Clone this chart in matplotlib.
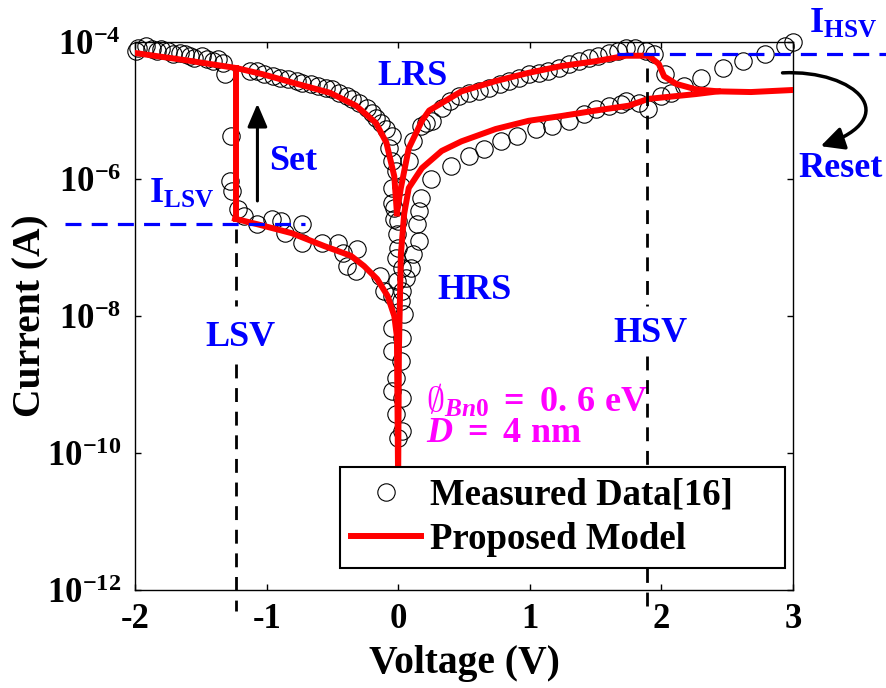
import numpy as np
import matplotlib
matplotlib.use('Agg')
import matplotlib.pyplot as plt
from matplotlib.patches import FancyArrowPatch
from matplotlib.path import Path

plt.rcParams['font.family'] = ['Liberation Serif', 'DejaVu Serif']
plt.rcParams['font.weight'] = 'bold'
plt.rcParams['mathtext.fontset'] = 'custom'
plt.rcParams['mathtext.rm'] = 'Liberation Serif:bold'
plt.rcParams['mathtext.bf'] = 'Liberation Serif:bold'
plt.rcParams['mathtext.it'] = 'Liberation Serif:bold:italic'

# courbes du modele (tension en V, log10 du courant)
lrs_neg_v = [-2.00, -1.60, -1.23, -1.03, -0.77, -0.52, -0.32, -0.17, -0.09, -0.03, -0.01]
lrs_neg_log = [-4.16, -4.27, -4.38, -4.47, -4.61, -4.74, -4.93, -5.18, -5.47, -5.96, -6.50]

set_v = [-1.23, -1.23]
set_log = [-4.38, -6.58]

hrs_neg_v = [-1.24, -1.07, -0.81, -0.56, -0.36, -0.26, -0.16, -0.08, -0.03, -0.01, -0.002]
hrs_neg_log = [-6.58, -6.66, -6.79, -6.98, -7.12, -7.27, -7.46, -7.71, -8.00, -8.30, -10.19]

lrs_pos_v = [-0.01, 0.02, 0.08, 0.18, 0.235, 0.48, 0.74, 0.99, 1.24, 1.50, 1.73, 1.90,
             1.98, 2.02, 2.11, 2.26, 2.43, 2.68, 3.00]
lrs_pos_log = [-6.50, -6.13, -5.55, -5.15, -5.00, -4.72, -4.57, -4.45, -4.35, -4.28, -4.20, -4.20,
               -4.32, -4.50, -4.61, -4.69, -4.72, -4.73, -4.70]

hrs_pos_v = [0.0, 0.005, 0.02, 0.045, 0.08, 0.18, 0.33, 0.48, 0.74, 0.99, 1.24, 1.50, 1.75,
             1.90, 2.26, 2.43]
hrs_pos_log = [-10.19, -8.50, -7.10, -6.51, -6.13, -5.84, -5.59, -5.45, -5.27, -5.15, -5.08, -5.00, -4.93,
               -4.83, -4.76, -4.72]

# donnees mesurees
meas_v = [-1.99, -1.98, -1.92, -1.87, -1.83, -1.80, -1.75, -1.71, -1.66, -1.62, -1.58, -1.55, -1.49,
          -1.45, -1.41, -1.37, -1.33, -1.32,
          -1.27, -1.28, -1.26,
          -1.13, -1.07, -1.02, -0.95, -0.90, -0.84, -0.77, -0.73, -0.66, -0.61, -0.55, -0.50, -0.45,
          -0.39, -0.35, -0.30, -0.24, -0.20, -0.17, -0.13, -0.09, -0.05, -0.07, -0.045, -0.015,
          -0.045, -0.03, 0.0, -0.01, 0.0, -0.015, 0.03, -0.01, 0.03, 0.02, 0.045, -0.045, 0.03,
          -0.045, 0.02, -0.015, -0.045, 0.03, -0.015, 0.03, 0.0,
          0.16, 0.145, 0.16, 0.11, 0.10, 0.06,
          0.02, 0.08, 0.11, 0.17, 0.21,
          0.26, 0.33, 0.39, 0.46, 0.54, 0.61, 0.69, 0.77, 0.84, 0.92, 0.99, 1.07, 1.14, 1.22, 1.30,
          1.37, 1.45, 1.52, 1.60, 1.67, 1.73, 1.80, 1.88, 1.94,
          2.03, 2.17, 2.30, 2.47, 2.62, 2.79, 2.94, 3.00,
          0.17, 0.25, 0.40, 0.54, 0.65, 0.78, 0.90, 1.05, 1.17, 1.30, 1.41, 1.50, 1.60, 1.69, 1.73,
          1.83, 1.90, 2.00, 2.07,
          -1.22, -1.17, -1.07, -0.96, -0.89, -0.86, -0.73, -0.73, -0.58, -0.46, -0.42, -0.31, -0.39,
          -0.32, -0.14, -0.11, -0.05, -0.05, -0.03]
meas_log = [-4.13, -4.09, -4.06, -4.10, -4.13, -4.10, -4.13, -4.18, -4.16, -4.18, -4.20, -4.23, -4.20,
            -4.25, -4.28, -4.25, -4.31, -4.47,
            -5.37, -6.03, -6.18,
            -4.42, -4.42, -4.47, -4.50, -4.53, -4.54, -4.57, -4.60, -4.61, -4.64, -4.67, -4.69, -4.74,
            -4.79, -4.83, -4.89, -4.96, -5.04, -5.11, -5.18, -5.27, -5.37, -5.55, -5.74, -5.88,
            -6.13, -6.42, -6.61, -6.80, -7.00, -7.15, -7.30, -7.49, -7.64, -7.78, -7.97, -8.18, -8.32,
            -8.51, -8.66, -8.90, -9.09, -9.20, -9.43, -9.68, -9.78,
            -6.47, -6.66, -6.90, -7.10, -7.30, -7.45,
            -6.10, -5.74, -5.45, -5.23, -5.18,
            -5.15, -4.96, -4.86, -4.79, -4.74, -4.72, -4.67, -4.61, -4.57, -4.53, -4.47, -4.45, -4.42,
            -4.38, -4.32, -4.28, -4.23, -4.20, -4.16, -4.13, -4.09, -4.09, -4.13, -4.18,
            -4.47, -4.64, -4.53, -4.38, -4.28, -4.18, -4.06, -4.00,
            -6.28, -6.00, -5.81, -5.66, -5.56, -5.45, -5.37, -5.27, -5.23, -5.15, -5.05, -4.98, -4.93,
            -4.91, -4.86, -4.89, -4.98, -4.79, -4.74,
            -6.44, -6.54, -6.66, -6.58, -6.61, -6.79, -6.66, -6.93, -6.93, -6.93, -7.08, -7.02, -7.27,
            -7.34, -7.42, -7.64, -7.71, -6.35, -6.58]

x_ticks = [-2, -1, 0, 1, 2, 3]
y_ticks = [1e-12, 1e-10, 1e-8, 1e-6, 1e-4]
y_ticklabels = [r'$\mathbf{10^{-12}}$', r'$\mathbf{10^{-10}}$', r'$\mathbf{10^{-8}}$',
                r'$\mathbf{10^{-6}}$', r'$\mathbf{10^{-4}}$']

lsv = -1.23
hsv = 1.89
i_lsv = -6.65
i_hsv = -4.175

fig = plt.figure(figsize=(8.86, 6.88), dpi=100)
ax = fig.add_axes([0.1524, 0.1424, 0.7427, 0.7965])
ax.set_yscale('log')

red = '#FF0000'
blue = '#0000FF'
mag = '#FF00FF'

h_meas, = ax.plot(meas_v, 10.0 ** np.array(meas_log), 'o', ms=12.5, mfc='none', mec='k', mew=0.8,
                  label='Measured Data[16]', zorder=2, clip_on=False)
h_mod, = ax.plot(lrs_neg_v, 10.0 ** np.array(lrs_neg_log), color=red, lw=4.3,
                 label='Proposed Model', zorder=3)
for vv, ll in [(set_v, set_log), (hrs_neg_v, hrs_neg_log), (lrs_pos_v, lrs_pos_log),
               (hrs_pos_v, hrs_pos_log)]:
    ax.plot(vv, 10.0 ** np.array(ll), color=red, lw=4.3, zorder=3, solid_joinstyle='round')

# lignes pointillees
kd = dict(color='k', lw=2.0, dashes=(5, 3.5), clip_on=False, zorder=4)
ax.plot([lsv, lsv], [10 ** -6.73, 10 ** -7.85], **kd)
ax.plot([lsv, lsv], [10 ** -8.70, 10 ** -12.3], **kd)
ax.plot([hsv, hsv], [10 ** -4.38, 10 ** -7.85], **kd)
ax.plot([hsv, hsv], [10 ** -8.58, 10 ** -12.3], **kd)
bd = dict(color=blue, lw=2.3, dashes=(5, 3.2), clip_on=False, zorder=4)
ax.plot([-2.53, -0.71], [10 ** i_lsv, 10 ** i_lsv], **bd)
ax.plot([1.66, 3.72], [10 ** i_hsv, 10 ** i_hsv], **bd)

ax.set_xlim(-2, 3)
ax.set_ylim(1e-12, 1e-4)
ax.set_xticks(x_ticks)
ax.set_xticklabels([str(t) for t in x_ticks])
ax.set_yticks(y_ticks)
ax.set_yticklabels(y_ticklabels)
ax.minorticks_off()
ax.tick_params(direction='in', top=True, right=True, length=4, width=1, labelsize=25, pad=9)
ax.tick_params(axis='y', pad=10)
for s in ax.spines.values():
    s.set_linewidth(1.0)

ax.set_xlabel('Voltage (V)', fontsize=28.5, fontweight='bold', labelpad=7)
ax.set_ylabel('Current (A)', fontsize=28.5, fontweight='bold', labelpad=-2)

# textes
tk = dict(fontsize=26, fontweight='bold', color=blue, ha='center', va='center')
ax.text(0.11, 10 ** -4.5, 'LRS', **tk)
ax.text(-0.80, 10 ** -5.74, 'Set', **tk)
ax.text(0.58, 10 ** -7.62, 'HRS', **tk)
ax.text(-1.20, 10 ** -8.32, 'LSV', **tk)
ax.text(1.92, 10 ** -8.26, 'HSV', **tk)
ax.text(3.36, 10 ** -5.85, 'Reset', **tk)
ax.text(-1.65, 10 ** -6.22, r'$\mathrm{I}_{\mathrm{LSV}}$', **tk)
ax.text(3.38, 10 ** -3.74, r'$\mathrm{I}_{\mathrm{HSV}}$', **tk)
ax.text(0.21, 10 ** -9.24, r'$\emptyset_{Bn0}\ =\ \mathrm{0.\,6\ eV}$', fontsize=26,
        color=mag, ha='left', va='center')
ax.text(0.21, 10 ** -9.71, r'$D\ =\ \mathrm{4\ nm}$', fontsize=26, color=mag, ha='left', va='center')

# fleches
ax.annotate('', xy=(-1.07, 10 ** -4.9), xytext=(-1.07, 10 ** -6.32),
            arrowprops=dict(arrowstyle='-|>,head_length=0.7,head_width=0.3', color='k', lw=2.2,
                            mutation_scale=20, shrinkA=0, shrinkB=0))
verts = [(2.92, 10 ** -4.45), (3.48, 10 ** -4.40), (3.85, 10 ** -5.10), (3.21, 10 ** -5.52)]
reset_path = Path(verts, [Path.MOVETO, Path.CURVE4, Path.CURVE4, Path.CURVE4])
arr = FancyArrowPatch(path=reset_path, arrowstyle='-|>,head_length=0.7,head_width=0.35', color='k',
                      lw=2.5, mutation_scale=20, transform=ax.transData, clip_on=False, zorder=5)
ax.add_patch(arr)

leg = ax.legend(handles=[h_meas, h_mod], loc='lower left', bbox_to_anchor=(0.3116, 0.04, 0.676, 0.186),
                mode='expand', borderaxespad=0, fontsize=26.5, frameon=True, fancybox=False,
                edgecolor='k', framealpha=1, handlelength=1.9, handletextpad=0.25, borderpad=0.3,
                labelspacing=0.25)
leg.get_frame().set_linewidth(1.5)
leg.set_zorder(6)

fig.savefig('out.png', dpi=100)
